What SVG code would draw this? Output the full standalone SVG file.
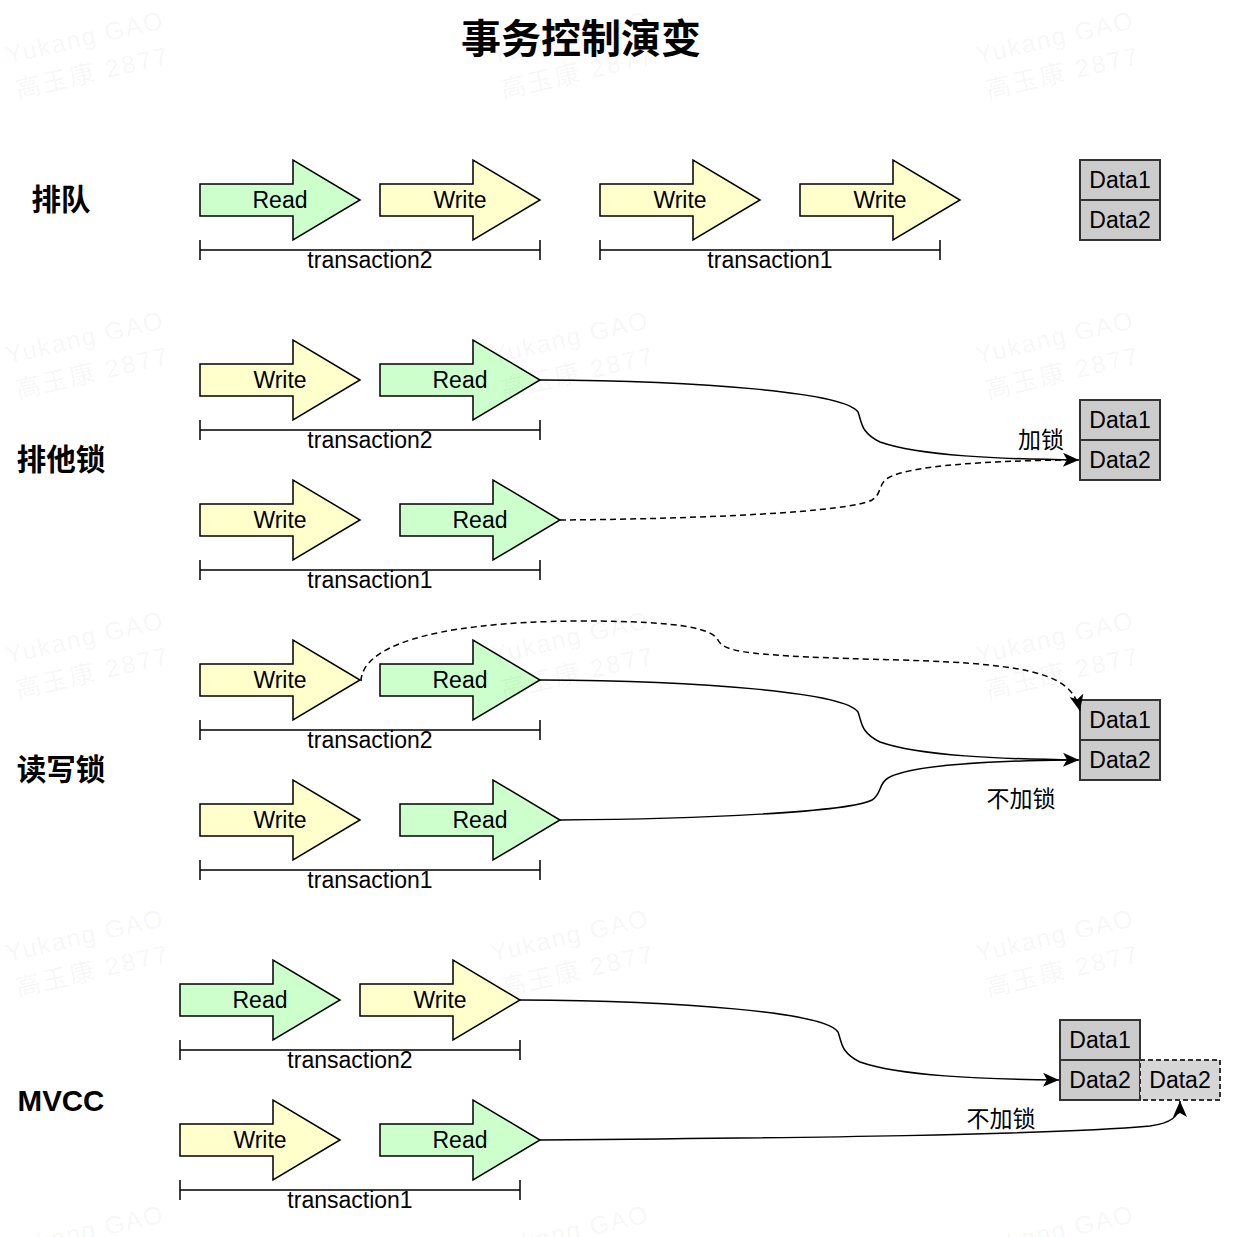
<svg xmlns="http://www.w3.org/2000/svg" xmlns:xlink="http://www.w3.org/1999/xlink" width="1238" height="1237" viewBox="0 0 1238 1237">
<style>
.g{fill:#ccffcc;stroke:#000;stroke-width:1.5}
.y{fill:#ffffcc;stroke:#000;stroke-width:1.5}
.t{font-family:"Liberation Sans",Arial,"Noto Sans CJK SC",sans-serif;font-size:23px;fill:#000;text-anchor:middle}
.sec{font-family:"Liberation Sans",Arial,"Noto Sans CJK SC",sans-serif;font-size:29.5px;font-weight:bold;fill:#000;text-anchor:middle}
.br{fill:none;stroke:#000;stroke-width:1.5}
.d{fill:#cccccc;stroke:#333;stroke-width:2}
.dd{fill:#d6d6d6;stroke:#333;stroke-width:2;stroke-dasharray:5 3}
.c{fill:none;stroke:#000;stroke-width:1.5}
.cd{fill:none;stroke:#000;stroke-width:1.5;stroke-dasharray:6 4}
.wm{font-family:"Liberation Sans",Arial,"Noto Sans CJK SC",sans-serif;font-size:25px;fill:#000;fill-opacity:0.05}
</style>
<defs>
<polygon id="blk" points="0,-16 93,-16 93,-40 160,0 93,40 93,16 0,16"/>
<marker id="ah" markerUnits="userSpaceOnUse" markerWidth="17" markerHeight="15" refX="16" refY="7" orient="auto" overflow="visible">
<path d="M0,0 L16,7 L0,14 L4,7 z" fill="#000" stroke="none"/>
</marker>
</defs>
<rect width="1238" height="1237" fill="#fff"/>
<text x="581" y="53" class="sec" style="font-size:40px">事务控制演变</text>

<g id="labels">
<text x="61" y="210" class="sec">排队</text>
<text x="61" y="470" class="sec">排他锁</text>
<text x="61" y="780" class="sec">读写锁</text>
<text x="61" y="1111" class="sec">MVCC</text>
</g>

<g id="sec1">
<g id="s1-read"><use xlink:href="#blk" x="200" y="200" class="g"/><text x="280" y="208" class="t">Read</text></g>
<g id="s1-write1"><use xlink:href="#blk" x="380" y="200" class="y"/><text x="460" y="208" class="t">Write</text></g>
<g id="s1-write2"><use xlink:href="#blk" x="600" y="200" class="y"/><text x="680" y="208" class="t">Write</text></g>
<g id="s1-write3"><use xlink:href="#blk" x="800" y="200" class="y"/><text x="880" y="208" class="t">Write</text></g>
<g id="s1-tx2"><path class="br" d="M200,250 H540 M200,240 V260 M540,240 V260"/><text x="370" y="268" class="t">transaction2</text></g>
<g id="s1-tx1"><path class="br" d="M600,250 H940 M600,240 V260 M940,240 V260"/><text x="770" y="268" class="t">transaction1</text></g>
<g id="s1-data"><rect x="1080" y="160" width="80" height="40" class="d"/><text x="1120" y="188" class="t">Data1</text><rect x="1080" y="200" width="80" height="40" class="d"/><text x="1120" y="228" class="t">Data2</text></g>
</g>

<g id="sec2">
<g id="s2-write-a"><use xlink:href="#blk" x="200" y="380" class="y"/><text x="280" y="388" class="t">Write</text></g>
<g id="s2-read-a"><use xlink:href="#blk" x="380" y="380" class="g"/><text x="460" y="388" class="t">Read</text></g>
<g id="s2-tx2"><path class="br" d="M200,430 H540 M200,420 V440 M540,420 V440"/><text x="370" y="448" class="t">transaction2</text></g>
<g id="s2-write-b"><use xlink:href="#blk" x="200" y="520" class="y"/><text x="280" y="528" class="t">Write</text></g>
<g id="s2-read-b"><use xlink:href="#blk" x="400" y="520" class="g"/><text x="480" y="528" class="t">Read</text></g>
<g id="s2-tx1"><path class="br" d="M200,570 H540 M200,560 V580 M540,560 V580"/><text x="370" y="588" class="t">transaction1</text></g>
<g id="s2-data"><rect x="1080" y="400" width="80" height="40" class="d"/><text x="1120" y="428" class="t">Data1</text><rect x="1080" y="440" width="80" height="40" class="d"/><text x="1120" y="468" class="t">Data2</text></g>
</g>

<g id="sec3">
<g id="s3-write-a"><use xlink:href="#blk" x="200" y="680" class="y"/><text x="280" y="688" class="t">Write</text></g>
<g id="s3-read-a"><use xlink:href="#blk" x="380" y="680" class="g"/><text x="460" y="688" class="t">Read</text></g>
<g id="s3-tx2"><path class="br" d="M200,730 H540 M200,720 V740 M540,720 V740"/><text x="370" y="748" class="t">transaction2</text></g>
<g id="s3-write-b"><use xlink:href="#blk" x="200" y="820" class="y"/><text x="280" y="828" class="t">Write</text></g>
<g id="s3-read-b"><use xlink:href="#blk" x="400" y="820" class="g"/><text x="480" y="828" class="t">Read</text></g>
<g id="s3-tx1"><path class="br" d="M200,870 H540 M200,860 V880 M540,860 V880"/><text x="370" y="888" class="t">transaction1</text></g>
<g id="s3-data"><rect x="1080" y="700" width="80" height="40" class="d"/><text x="1120" y="728" class="t">Data1</text><rect x="1080" y="740" width="80" height="40" class="d"/><text x="1120" y="768" class="t">Data2</text></g>
</g>

<g id="sec4">
<g id="s4-read-a"><use xlink:href="#blk" x="180" y="1000" class="g"/><text x="260" y="1008" class="t">Read</text></g>
<g id="s4-write-a"><use xlink:href="#blk" x="360" y="1000" class="y"/><text x="440" y="1008" class="t">Write</text></g>
<g id="s4-tx2"><path class="br" d="M180,1050 H520 M180,1040 V1060 M520,1040 V1060"/><text x="350" y="1068" class="t">transaction2</text></g>
<g id="s4-write-b"><use xlink:href="#blk" x="180" y="1140" class="y"/><text x="260" y="1148" class="t">Write</text></g>
<g id="s4-read-b"><use xlink:href="#blk" x="380" y="1140" class="g"/><text x="460" y="1148" class="t">Read</text></g>
<g id="s4-tx1"><path class="br" d="M180,1190 H520 M180,1180 V1200 M520,1180 V1200"/><text x="350" y="1208" class="t">transaction1</text></g>
<g id="s4-data"><rect x="1060" y="1020" width="80" height="40" class="d"/><text x="1100" y="1048" class="t">Data1</text><rect x="1060" y="1060" width="80" height="40" class="d"/><text x="1100" y="1088" class="t">Data2</text></g>
<g id="s4-data-new"><rect x="1140" y="1060" width="80" height="40" class="dd"/><text x="1180" y="1088" class="t">Data2</text></g>
</g>

<g id="connectors">
<path class="c" d="M540,380 C700,381 845,392 858,412 C862,422 860,432 880,442 C920,456 1000,459 1079,460" marker-end="url(#ah)"/>
<path class="cd" d="M560,520 C700,519 850,512 872,500 C882,494 878,484 888,478 C910,465 990,461 1066,460"/>
<text x="1041" y="448" class="t">加锁</text>
<path class="cd" d="M361,681 C362,650 420,622 580,621 C690,621 712,630 718,640 C724,652 745,656 900,660 C1040,664 1072,676 1080,711" marker-end="url(#ah)"/>
<path class="c" d="M540,680 C700,681 845,692 858,712 C862,722 860,732 880,742 C920,756 1000,759 1079,760" marker-end="url(#ah)"/>
<path class="c" d="M560,820 C700,819 850,812 872,800 C882,794 878,784 888,778 C910,765 990,761 1066,760"/>
<text x="1021" y="807" class="t">不加锁</text>
<path class="c" d="M520,1000 C680,1001 825,1012 838,1032 C842,1042 840,1052 860,1062 C900,1076 980,1079 1059,1080" marker-end="url(#ah)"/>
<path class="c" d="M540,1140 C800,1138 1050,1135 1150,1126 C1170,1123 1180,1118 1180,1101" marker-end="url(#ah)"/>
<text x="1001" y="1127" class="t">不加锁</text>
</g>

<g id="watermark">
<g transform="translate(8,64) rotate(-13)"><text class="wm" x="0" y="0" textLength="160">Yukang GAO</text><text class="wm" x="2" y="36" textLength="155">高玉康 2877</text></g>
<g transform="translate(493,64) rotate(-13)"><text class="wm" x="0" y="0" textLength="160">Yukang GAO</text><text class="wm" x="2" y="36" textLength="155">高玉康 2877</text></g>
<g transform="translate(978,64) rotate(-13)"><text class="wm" x="0" y="0" textLength="160">Yukang GAO</text><text class="wm" x="2" y="36" textLength="155">高玉康 2877</text></g>
<g transform="translate(8,364) rotate(-13)"><text class="wm" x="0" y="0" textLength="160">Yukang GAO</text><text class="wm" x="2" y="36" textLength="155">高玉康 2877</text></g>
<g transform="translate(493,364) rotate(-13)"><text class="wm" x="0" y="0" textLength="160">Yukang GAO</text><text class="wm" x="2" y="36" textLength="155">高玉康 2877</text></g>
<g transform="translate(978,364) rotate(-13)"><text class="wm" x="0" y="0" textLength="160">Yukang GAO</text><text class="wm" x="2" y="36" textLength="155">高玉康 2877</text></g>
<g transform="translate(8,664) rotate(-13)"><text class="wm" x="0" y="0" textLength="160">Yukang GAO</text><text class="wm" x="2" y="36" textLength="155">高玉康 2877</text></g>
<g transform="translate(493,664) rotate(-13)"><text class="wm" x="0" y="0" textLength="160">Yukang GAO</text><text class="wm" x="2" y="36" textLength="155">高玉康 2877</text></g>
<g transform="translate(978,664) rotate(-13)"><text class="wm" x="0" y="0" textLength="160">Yukang GAO</text><text class="wm" x="2" y="36" textLength="155">高玉康 2877</text></g>
<g transform="translate(8,962) rotate(-13)"><text class="wm" x="0" y="0" textLength="160">Yukang GAO</text><text class="wm" x="2" y="36" textLength="155">高玉康 2877</text></g>
<g transform="translate(493,962) rotate(-13)"><text class="wm" x="0" y="0" textLength="160">Yukang GAO</text><text class="wm" x="2" y="36" textLength="155">高玉康 2877</text></g>
<g transform="translate(978,962) rotate(-13)"><text class="wm" x="0" y="0" textLength="160">Yukang GAO</text><text class="wm" x="2" y="36" textLength="155">高玉康 2877</text></g>
<g transform="translate(8,1258) rotate(-13)"><text class="wm" x="0" y="0" textLength="160">Yukang GAO</text></g>
<g transform="translate(493,1258) rotate(-13)"><text class="wm" x="0" y="0" textLength="160">Yukang GAO</text></g>
<g transform="translate(978,1258) rotate(-13)"><text class="wm" x="0" y="0" textLength="160">Yukang GAO</text></g>
</g>
</svg>
